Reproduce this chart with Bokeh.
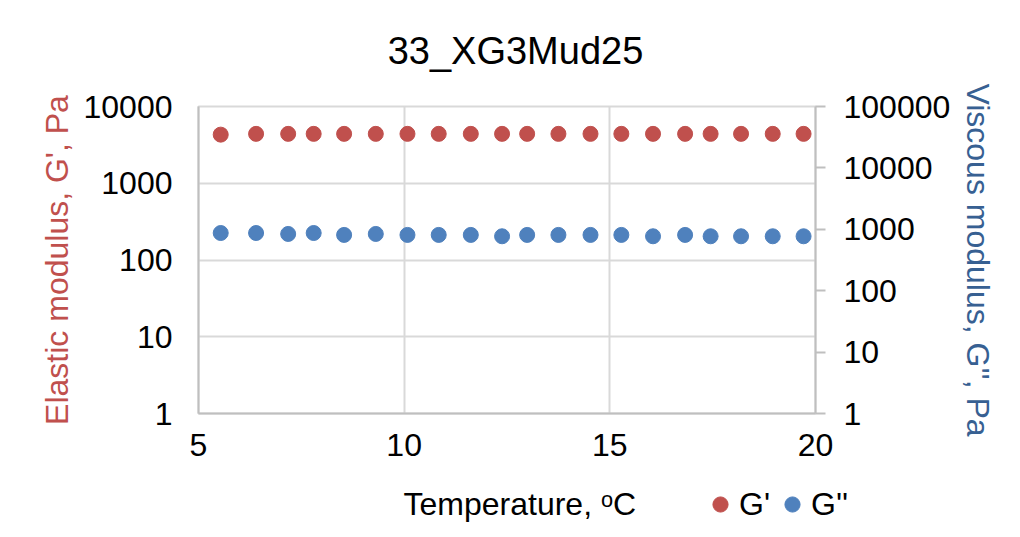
from bokeh.plotting import figure
from bokeh.layouts import column, row
from bokeh.models import (Range1d, LogScale, LogAxis, FixedTicker, NumeralTickFormatter,
                          Legend, LegendItem, ColumnDataSource, Label)
from bokeh.embed import file_html
from bokeh.resources import INLINE

title_text = "33_XG3Mud25"
x_label = "Temperature, \u1d52C"
y_left_label = "Elastic modulus, G', Pa"
y_right_label = "Viscous modulus, G'', Pa"
series_names = ["G'", "G''"]

temperature = [5.54, 6.40, 7.18, 7.80, 8.54, 9.31, 10.08, 10.84, 11.62, 12.38,
               12.99, 13.75, 14.53, 15.28, 16.05, 16.83, 17.45, 18.19, 18.96, 19.71]
g_elastic = [4300, 4400, 4400, 4400, 4400, 4400, 4400, 4400, 4400, 4400,
             4400, 4400, 4400, 4400, 4400, 4400, 4400, 4400, 4400, 4400]
g_viscous = [870, 870, 840, 870, 810, 840, 810, 810, 810, 770,
             810, 810, 810, 810, 770, 810, 770, 770, 770, 770]

x_ticks = [5, 10, 15, 20]
left_ticks = [1, 10, 100, 1000, 10000]
right_ticks = [1, 10, 100, 1000, 10000, 100000]

FONT = "Liberation Sans"
RED = "#C0504D"
BLUE = "#4F81BD"
BLUE_TXT = "#376092"
GRID = "#D9D9D9"
AXIS = "#BFBFBF"


def strip_figure(height):
    s = figure(width=1020, height=height, output_backend="svg", toolbar_location=None,
               x_range=Range1d(0, 1), y_range=Range1d(0, 1),
               x_axis_location=None, y_axis_location=None,
               min_border_left=0, min_border_right=0, min_border_top=0, min_border_bottom=0)
    s.outline_line_color = None
    s.xgrid.visible = False
    s.ygrid.visible = False
    s.background_fill_color = "white"
    s.border_fill_color = "white"
    return s


src = ColumnDataSource(dict(t=temperature, g1=g_elastic, g2=g_viscous))

# ---------------- header: chart title ----------------
h = strip_figure(80)
h.add_layout(Label(x=515, y=30, x_units="screen", y_units="screen", text=title_text,
                   text_font=FONT, text_font_size="38px", text_color="#000000",
                   text_align="center", text_baseline="alphabetic"))

# ---------------- main chart ----------------
p = figure(width=1020, height=395, output_backend="svg", toolbar_location=None,
           x_range=Range1d(5, 20), y_range=Range1d(1, 10000), y_axis_type="log",
           min_border_left=198, min_border_right=205, min_border_top=26,
           min_border_bottom=62)
p.extra_y_ranges = {"right": Range1d(1, 100000)}
p.extra_y_scales = {"right": LogScale()}

p.outline_line_color = GRID
p.outline_line_width = 2
p.background_fill_color = "white"
p.border_fill_color = "white"

p.xgrid.grid_line_color = GRID
p.xgrid.grid_line_width = 2
p.ygrid.grid_line_color = GRID
p.ygrid.grid_line_width = 2

xa = p.xaxis[0]
xa.ticker = FixedTicker(ticks=x_ticks)
xa.axis_line_color = AXIS
xa.axis_line_width = 2
xa.major_tick_out = 0
xa.major_tick_in = 0
xa.minor_tick_out = 0
xa.minor_tick_in = 0
xa.major_label_standoff = 20

ya = p.yaxis[0]
ya.ticker = FixedTicker(ticks=left_ticks)
ya.formatter = NumeralTickFormatter(format="0")
ya.axis_label = y_left_label
ya.axis_label_text_color = RED
ya.axis_line_color = AXIS
ya.axis_line_width = 2
ya.major_tick_out = 0
ya.major_tick_in = 0
ya.minor_tick_out = 0
ya.minor_tick_in = 0
ya.major_label_standoff = 26
ya.axis_label_standoff = 6

ra = LogAxis(y_range_name="right", ticker=FixedTicker(ticks=right_ticks),
             formatter=NumeralTickFormatter(format="0"), axis_label=y_right_label)
ra.axis_label_text_color = BLUE_TXT
ra.axis_line_color = AXIS
ra.axis_line_width = 2
ra.major_tick_line_color = AXIS
ra.major_tick_line_width = 2
ra.major_tick_out = 10
ra.major_tick_in = 0
ra.minor_tick_out = 0
ra.minor_tick_in = 0
ra.major_label_standoff = 18
ra.axis_label_standoff = 7
p.add_layout(ra, "right")

for ax in [xa, ya, ra]:
    ax.major_label_text_font = FONT
    ax.major_label_text_font_size = "32px"
    ax.major_label_text_color = "#000000"
    ax.axis_label_text_font = FONT
    ax.axis_label_text_font_size = "32px"
    ax.axis_label_text_font_style = "normal"

r1 = p.scatter("t", "g1", source=src, size=15, fill_color=RED, line_color=RED)
r2 = p.scatter("t", "g2", source=src, size=15, fill_color=BLUE, line_color=BLUE,
               y_range_name="right")

# ---------------- footer: x-axis title + legend ----------------
f = strip_figure(62)
f.add_layout(Label(x=403, y=34, x_units="screen", y_units="screen", text=x_label,
                   text_font=FONT, text_font_size="32px", text_color="#000000",
                   text_baseline="alphabetic"))

# legend proxies: same series and style, lying outside this strip's ranges
k1 = f.scatter("t", "g1", source=src, size=15, fill_color=RED, line_color=RED)
k2 = f.scatter("t", "g2", source=src, size=15, fill_color=BLUE, line_color=BLUE)
legend = Legend(items=[LegendItem(label=series_names[0], renderers=[k1]),
                       LegendItem(label=series_names[1], renderers=[k2])],
                orientation="horizontal", location=(701, 14))
legend.label_text_font = FONT
legend.label_text_font_size = "32px"
legend.label_text_color = "#000000"
legend.border_line_color = None
legend.background_fill_alpha = 0
legend.glyph_width = 38
legend.glyph_height = 38
legend.label_standoff = 0
legend.spacing = 3
legend.padding = 0
legend.margin = 0
f.add_layout(legend)

layout = column(row(h, spacing=0), p, row(f, spacing=0), spacing=0)
open("out.html", "w").write(file_html(layout, INLINE))
